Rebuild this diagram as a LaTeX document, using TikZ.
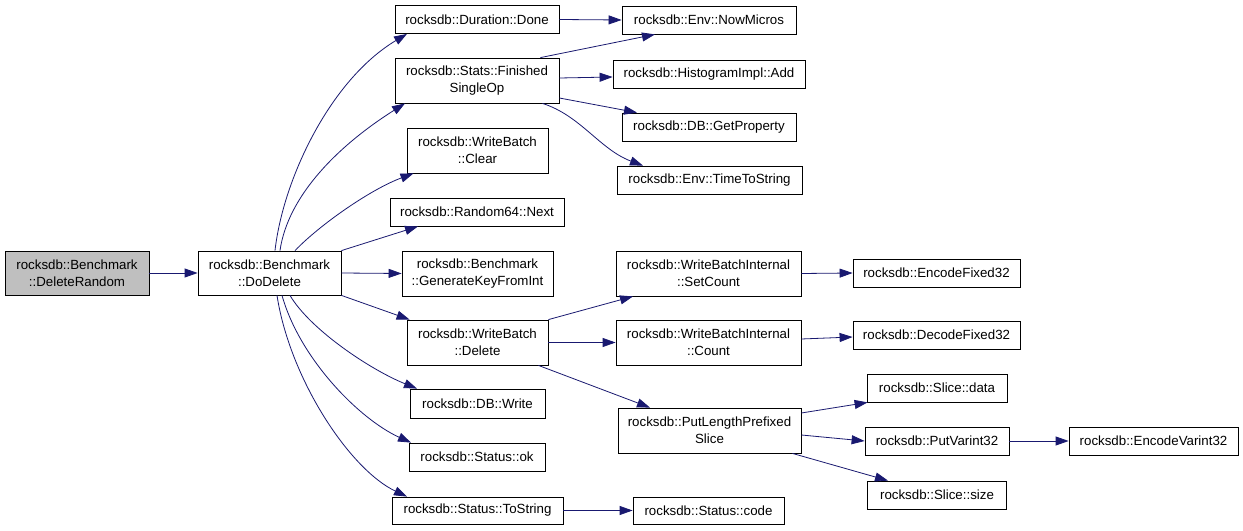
\documentclass[tikz,border=0pt]{standalone}
\usepackage{fontspec}
\setmainfont{Liberation Sans}
\usetikzlibrary{arrows.meta}
\definecolor{edgecol}{HTML}{191970}
\definecolor{greyfill}{HTML}{BFBFBF}
\begin{document}
\begin{tikzpicture}[x=1bp,y=-1bp,
  box/.style={draw=black, line width=0.8bp, fill=white, rectangle, inner sep=0pt, align=center,
    font=\fontsize{13.3bp}{17bp}\selectfont},
  edge/.style={draw=edgecol, line width=0.8bp, -{Triangle[length=13bp,width=9bp]}}]
\useasboundingbox (0,0) rectangle (1243,531);
\fill[white] (0,0) rectangle (1243,531);
% column 1
\node[box, fill=greyfill, minimum width=144bp, minimum height=44bp] (dr) at (77,273) {rocksdb::Benchmark\\::DeleteRandom};
\node[box, minimum width=143bp, minimum height=44bp] (dd) at (269.5,273) {rocksdb::Benchmark\\::DoDelete};
% column 3
\node[box, minimum width=164bp, minimum height=28bp] (done) at (477,19.5) {rocksdb::Duration::Done};
\node[box, minimum width=164bp, minimum height=45bp] (fso) at (477,80.5) {rocksdb::Stats::Finished\\SingleOp};
\node[box, minimum width=141bp, minimum height=45bp] (clr) at (477.5,150.5) {rocksdb::WriteBatch\\::Clear};
\node[box, minimum width=174bp, minimum height=28bp] (next) at (477,212) {rocksdb::Random64::Next};
\node[box, minimum width=151bp, minimum height=45bp] (gen) at (477.5,273.5) {rocksdb::Benchmark\\::GenerateKeyFromInt};
\node[box, minimum width=141bp, minimum height=45bp] (del) at (477.5,342.5) {rocksdb::WriteBatch\\::Delete};
\node[box, minimum width=135bp, minimum height=29bp] (dbw) at (477.5,403.5) {rocksdb::DB::Write};
\node[box, minimum width=136bp, minimum height=28bp] (ok) at (477,457) {rocksdb::Status::ok};
\node[box, minimum width=171bp, minimum height=27bp] (tos) at (477.5,510.5) {rocksdb::Status::ToString};
% column 4
\node[box, minimum width=174bp, minimum height=28bp] (now) at (709,20) {rocksdb::Env::NowMicros};
\node[box, minimum width=192bp, minimum height=28bp] (hist) at (709,74) {rocksdb::HistogramImpl::Add};
\node[box, minimum width=174bp, minimum height=28bp] (gp) at (709,127) {rocksdb::DB::GetProperty};
\node[box, minimum width=185bp, minimum height=28bp] (tts) at (709.5,180) {rocksdb::Env::TimeToString};
\node[box, minimum width=185bp, minimum height=45bp] (sc) at (708.5,273.5) {rocksdb::WriteBatchInternal\\::SetCount};
\node[box, minimum width=185bp, minimum height=45bp] (cnt) at (708.5,342.5) {rocksdb::WriteBatchInternal\\::Count};
\node[box, minimum width=183bp, minimum height=45bp] (pl) at (709.5,430.5) {rocksdb::PutLengthPrefixed\\Slice};
\node[box, minimum width=151bp, minimum height=27bp] (code) at (708.5,510.5) {rocksdb::Status::code};
% column 5
\node[box, minimum width=167bp, minimum height=28bp] (ef) at (936.5,273) {rocksdb::EncodeFixed32};
\node[box, minimum width=167bp, minimum height=28bp] (df) at (936.5,335) {rocksdb::DecodeFixed32};
\node[box, minimum width=140bp, minimum height=28bp] (sd) at (937,388) {rocksdb::Slice::data};
\node[box, minimum width=144bp, minimum height=28bp] (pv) at (937,441) {rocksdb::PutVarint32};
\node[box, minimum width=139bp, minimum height=28bp] (ss) at (937,495) {rocksdb::Slice::size};
% column 6
\node[box, minimum width=169bp, minimum height=28bp] (ev) at (1153.5,441) {rocksdb::EncodeVarint32};
% edges
\draw[edge] (dr.east) -- (dd.west);
\draw[edge] ([xshift=5.5bp]dd.north) .. controls +(8,-71) and +(-77,46) .. ([xshift=-70bp]done.south);
\draw[edge] ([xshift=10.5bp]dd.north) .. controls +(8,-56) and +(-65,41) .. ([xshift=-72bp]fso.south);
\draw[edge] ([xshift=25.5bp]dd.north) .. controls +(25,-26) and +(-43,16) .. ([xshift=-64bp]clr.south);
\draw[edge] (dd.north east) -- ([xshift=-59bp]next.south);
\draw[edge] (dd.east) -- (gen.west);
\draw[edge] (dd.south east) -- ([xshift=3bp]del.north west);
\draw[edge] ([xshift=20.5bp]dd.south) .. controls +(20,34) and +(-47,-19) .. ([xshift=-60.5bp]dbw.north);
\draw[edge] ([xshift=12.5bp]dd.south) .. controls +(18,64) and +(-51,-23) .. ([xshift=-66bp]ok.north);
\draw[edge] ([xshift=7.5bp]dd.south) .. controls +(13,84) and +(-57,-27) .. ([xshift=-70.5bp]tos.north);
\draw[edge] (done.east) -- (now.west);
\draw[edge] ([xshift=-19bp]fso.north east) -- ([xshift=-54bp]now.south);
\draw[edge] ([yshift=2.5bp]fso.east) -- ([yshift=-3bp]hist.west);
\draw[edge] ([yshift=-17.5bp]fso.east) -- ([xshift=-72bp]gp.north);
\draw[edge] ([xshift=-17bp]fso.south east) .. controls +(38,12) and +(-43,-16) .. ([xshift=-66.5bp]tts.north);
\draw[edge] (del.north east) -- ([xshift=-75.5bp]sc.south);
\draw[edge] (del.east) -- (cnt.west);
\draw[edge] ([xshift=-10bp]del.south east) -- ([xshift=-59.5bp]pl.north);
\draw[edge] (sc.east) -- (ef.west);
\draw[edge] ([yshift=3.5bp]cnt.east) -- ([yshift=-2bp]df.west);
\draw[edge] ([yshift=17.5bp]pl.east) -- ([xshift=1bp]sd.south west);
\draw[edge] ([yshift=-4.5bp]pl.east) -- (pv.west);
\draw[edge] ([xshift=-9bp]pl.south east) -- ([xshift=-49bp]ss.north);
\draw[edge] (pv.east) -- (ev.west);
\draw[edge] (tos.east) -- (code.west);
\end{tikzpicture}
\end{document}
